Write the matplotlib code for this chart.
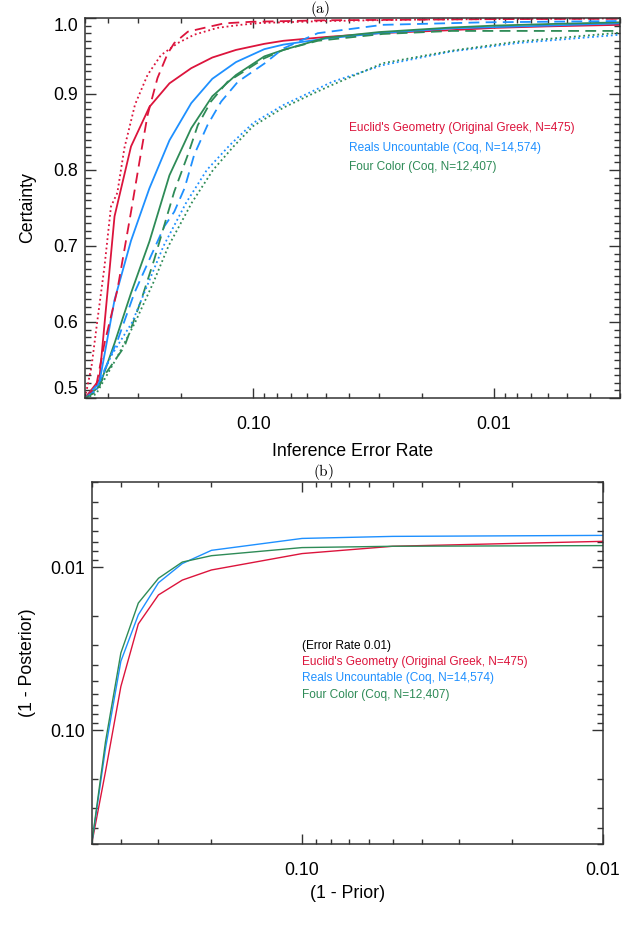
"""
Certainty vs. inference error rate (a) and posterior vs. prior (b)
for three proof corpora.
"""

import matplotlib
matplotlib.use("Agg")
import matplotlib.pyplot as plt
from matplotlib import font_manager
from matplotlib.ticker import MultipleLocator, NullFormatter, LogLocator

# -----------------------------
# Data, panel (a)
# -----------------------------
# solid curves share one error-rate grid
err_solid = [0.5, 0.436, 0.377, 0.322, 0.27, 0.223, 0.181, 0.148, 0.118,
             0.09, 0.075, 0.05, 0.03, 0.015, 0.01, 0.006, 0.003]
cert_euclid_solid = [0.50, 0.524, 0.739, 0.831, 0.883, 0.914, 0.934, 0.948, 0.958,
                     0.966, 0.970, 0.975, 0.980, 0.984, 0.987, 0.989, 0.991]
cert_reals_solid = [0.50, 0.520, 0.629, 0.707, 0.776, 0.839, 0.888, 0.920, 0.942,
                    0.959, 0.965, 0.973, 0.980, 0.9865, 0.988, 0.990, 0.993]
cert_four_solid = [0.50, 0.515, 0.572, 0.638, 0.706, 0.793, 0.855, 0.897, 0.925,
                   0.9495, 0.958, 0.974, 0.9815, 0.9875, 0.990, 0.992, 0.9943]

err_euclid_dash = [0.5, 0.45, 0.415, 0.367, 0.322, 0.297, 0.275, 0.25, 0.227,
                   0.213, 0.187, 0.16, 0.132, 0.102, 0.05, 0.01, 0.003]
cert_euclid_dash = [0.50, 0.515, 0.572, 0.642, 0.745, 0.811, 0.872, 0.921, 0.953,
                    0.967, 0.982, 0.987, 0.993, 0.995, 0.997, 0.9985, 0.999]

err_euclid_dot = [0.5, 0.47, 0.445, 0.415, 0.39, 0.367, 0.343, 0.31, 0.275,
                  0.242, 0.206, 0.176, 0.141, 0.113, 0.093, 0.05, 0.02, 0.003]
cert_euclid_dot = [0.50, 0.541, 0.600, 0.673, 0.752, 0.770, 0.829, 0.886, 0.925,
                   0.951, 0.967, 0.978, 0.987, 0.991, 0.9935, 0.996, 0.998, 0.9995]

err_reals_dash = [0.5, 0.45, 0.415, 0.366, 0.312, 0.266, 0.234, 0.213, 0.193,
                  0.176, 0.155, 0.136, 0.116, 0.09, 0.075, 0.054, 0.029, 0.011, 0.003]
cert_reals_dash = [0.50, 0.510, 0.537, 0.576, 0.638, 0.687, 0.726, 0.745, 0.776,
                   0.820, 0.859, 0.890, 0.916, 0.940, 0.960, 0.980, 0.991, 0.9943, 0.996]

err_four_dash = [0.5, 0.45, 0.415, 0.343, 0.292, 0.258, 0.227, 0.213, 0.187,
                 0.17, 0.15, 0.128, 0.109, 0.09, 0.075, 0.054, 0.029, 0.015, 0.003]
cert_four_dash = [0.50, 0.508, 0.530, 0.5675, 0.629, 0.682, 0.742, 0.7715, 0.820,
                  0.859, 0.890, 0.916, 0.930, 0.947, 0.958, 0.970, 0.979, 0.983, 0.983]

err_reals_dot = [0.5, 0.45, 0.39, 0.318, 0.27, 0.236, 0.19, 0.156, 0.125,
                 0.1, 0.075, 0.06, 0.047, 0.029, 0.015, 0.008, 0.003]
cert_reals_dot = [0.50, 0.510, 0.555, 0.600, 0.655, 0.700, 0.757, 0.800, 0.833,
                  0.862, 0.8855, 0.900, 0.916, 0.938, 0.956, 0.967, 0.978]

err_four_dot = [0.5, 0.45, 0.366, 0.309, 0.26, 0.225, 0.18, 0.147, 0.12,
                0.1, 0.075, 0.057, 0.047, 0.029, 0.015, 0.008, 0.003]
cert_four_dot = [0.50, 0.505, 0.555, 0.600, 0.652, 0.700, 0.757, 0.800, 0.832,
                 0.858, 0.882, 0.900, 0.912, 0.9405, 0.957, 0.969, 0.9807]

# -----------------------------
# Data, panel (b)
# -----------------------------
prior = [0.5, 0.45, 0.4, 0.35, 0.3, 0.25, 0.2, 0.1, 0.05, 0.01]
post_euclid = [0.5, 0.18, 0.054, 0.0223, 0.0148, 0.012, 0.0104, 0.00825, 0.00744, 0.00694]
post_reals = [0.5, 0.13, 0.0378, 0.0196, 0.01246, 0.0095, 0.00788, 0.00666, 0.00647, 0.00638]
post_four = [0.5, 0.118, 0.0336, 0.0166, 0.0117, 0.0093, 0.0085, 0.00758, 0.00744, 0.00737]

labels = ["Euclid's Geometry (Original Greek, N=475)",
          "Reals Uncountable (Coq, N=14,574)",
          "Four Color (Coq, N=12,407)"]
colores = ["#dc143c", "#1e90ff", "#2e8b57"]

# -----------------------------
# Fonts
# -----------------------------
installed = {f.name for f in font_manager.fontManager.ttflist}
sans = "Liberation Sans" if "Liberation Sans" in installed else "DejaVu Sans"
plt.rcParams["font.family"] = [sans, "DejaVu Sans"]
plt.rcParams["mathtext.fontset"] = "cm"

W, H = 640, 925
fig = plt.figure(figsize=(W / 100, H / 100), dpi=100)


def px_axes(l, t, r, b):
    return fig.add_axes([l / W, 1 - b / H, (r - l) / W, (b - t) / H])


def estilo(ax):
    for s in ax.spines.values():
        s.set_linewidth(1.1)
        s.set_color("#333333")
    ax.tick_params(which="both", direction="in", top=True, right=True,
                   color="#333333", width=1.0)
    ax.tick_params(axis="x", which="major", length=7, pad=13)
    ax.tick_params(axis="x", which="minor", length=3.5)
    ax.tick_params(axis="y", which="major", length=8, pad=5)
    ax.tick_params(axis="y", which="minor", length=4.5)


# -----------------------------
# Panel (a)
# -----------------------------
ax = px_axes(85, 18, 620, 398)
sets = [
    (err_solid, cert_euclid_solid, 0, "-"),
    (err_solid, cert_reals_solid, 1, "-"),
    (err_solid, cert_four_solid, 2, "-"),
    (err_euclid_dash, cert_euclid_dash, 0, (0, (6, 3.5))),
    (err_reals_dash, cert_reals_dash, 1, (0, (6, 3.5))),
    (err_four_dash, cert_four_dash, 2, (0, (6, 3.5))),
    (err_euclid_dot, cert_euclid_dot, 0, (0, (1, 1.6))),
    (err_reals_dot, cert_reals_dot, 1, (0, (1, 1.6))),
    (err_four_dot, cert_four_dot, 2, (0, (1, 1.6))),
]
for xs, ys, k, ls in sets:
    ax.plot(xs, ys, color=colores[k], linestyle=ls, linewidth=1.3)

ax.set_xscale("log")
ax.set_xlim(0.5, 0.003)
ax.set_ylim(0.5, 1.0)
ax.set_xticks([0.1, 0.01], labels=["0.10", "0.01"])
ax.xaxis.set_minor_locator(LogLocator(subs=range(2, 10)))
ax.xaxis.set_minor_formatter(NullFormatter())
ax.set_yticks([0.5, 0.6, 0.7, 0.8, 0.9, 1.0],
              labels=["0.5", "0.6", "0.7", "0.8", "0.9", "1.0"])
ax.yaxis.set_minor_locator(MultipleLocator(0.01))
estilo(ax)
for t in ax.get_xticklabels() + ax.get_yticklabels():
    t.set_fontsize(12.8)
ytl = ax.get_yticklabels()
ytl[0].set_va("bottom")
ytl[-1].set_va("top")

ax.set_xlabel("Inference Error Rate", fontsize=12.8)
ax.xaxis.set_label_coords(0.5, (398 - 451) / 380)
ax.xaxis.label.set_va("center")
ax.set_ylabel("Certainty", fontsize=12.8)
ax.yaxis.set_label_coords((28 - 85) / 535, 0.5)
ax.yaxis.label.set_va("center")

for k in range(3):
    ax.text(349 / W, 1 - (128 + 19.5 * k) / H, labels[k], transform=fig.transFigure,
            color=colores[k], fontsize=8.6, va="center", ha="left")

fig.text(320 / W, 1 - 9 / H, r"$\mathrm{(a)}$", ha="center", va="center", fontsize=11)

# -----------------------------
# Panel (b)
# -----------------------------
bx = px_axes(91.7, 482, 603, 844)
for ys, k in [(post_euclid, 0), (post_reals, 1), (post_four, 2)]:
    bx.plot(prior, ys, color=colores[k], linewidth=1.0)

bx.set_xscale("log")
bx.set_yscale("log")
bx.set_xlim(0.5, 0.01)
bx.set_ylim(0.5, 0.003)
bx.set_xticks([0.1, 0.01], labels=["0.10", "0.01"])
bx.set_yticks([0.1, 0.01], labels=["0.10", "0.01"])
for axis in (bx.xaxis, bx.yaxis):
    axis.set_minor_locator(LogLocator(subs=range(2, 10)))
    axis.set_minor_formatter(NullFormatter())
estilo(bx)
for t in bx.get_xticklabels() + bx.get_yticklabels():
    t.set_fontsize(12.8)

bx.set_xlabel("(1 - Prior)", fontsize=12.8)
bx.xaxis.set_label_coords(0.5, (844 - 893) / 362)
bx.xaxis.label.set_va("center")
bx.set_ylabel("(1 - Posterior)", fontsize=12.8)
bx.yaxis.set_label_coords((28 - 91.7) / 511.3, 0.5)
bx.yaxis.label.set_va("center")

fig.text(302 / W, 1 - 646 / H, "(Error Rate 0.01)", color="black",
         va="center", ha="left", fontsize=8.6)
for k in range(3):
    fig.text(302 / W, 1 - (662 + 16.3 * k) / H, labels[k], color=colores[k],
             va="center", ha="left", fontsize=8.6)

fig.text(323 / W, 1 - 472 / H, r"$\mathrm{(b)}$", ha="center", va="center", fontsize=11)

fig.savefig("out.png", dpi=100)
